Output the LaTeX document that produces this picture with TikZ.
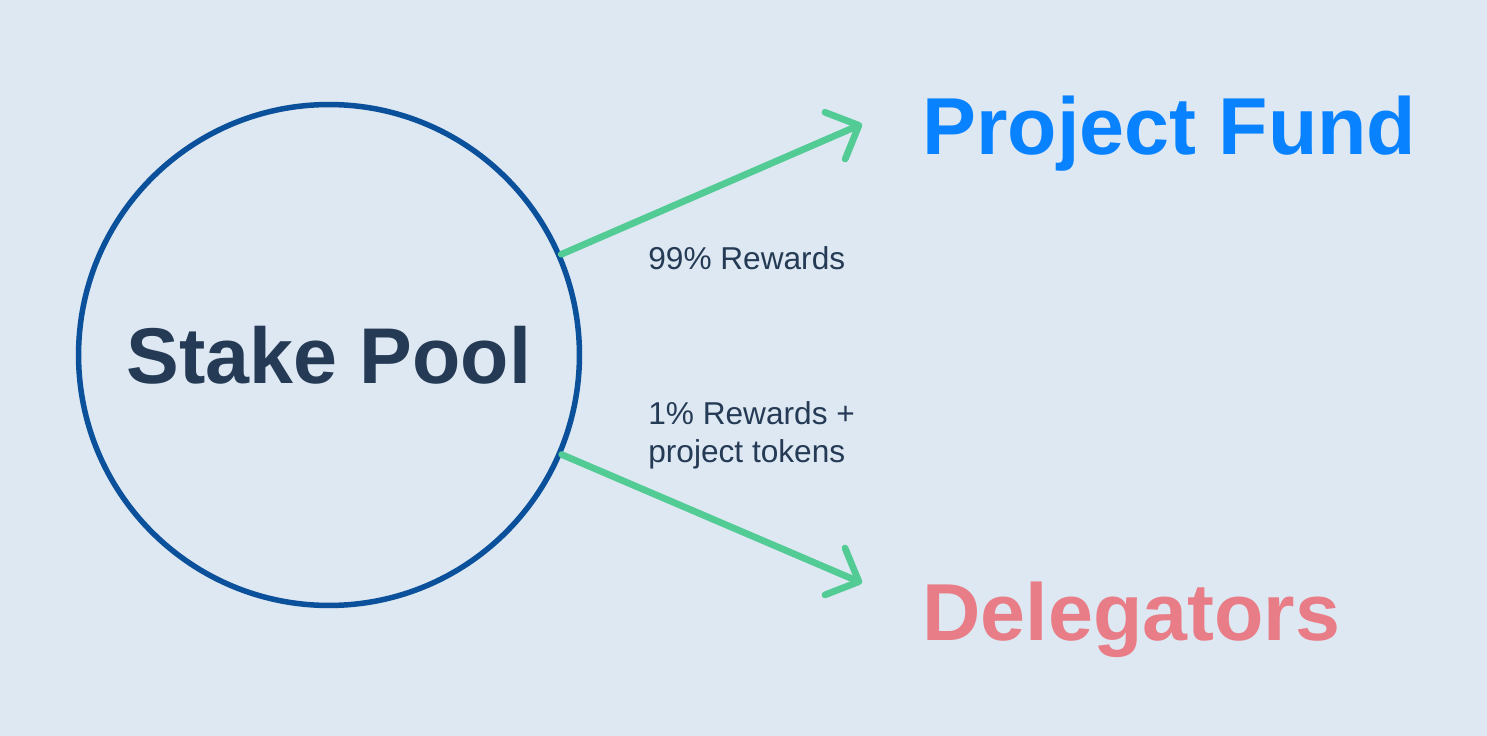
\documentclass[tikz,border=0pt]{standalone}
\usepackage{fontspec}
\setmainfont{Liberation Sans}
\usetikzlibrary{arrows.meta}

\definecolor{bgcol}{RGB}{222,232,242}
\definecolor{poolblue}{RGB}{11,80,155}
\definecolor{flowgreen}{RGB}{82,204,148}
\definecolor{inkcol}{RGB}{36,58,85}
\definecolor{fundblue}{RGB}{8,130,255}
\definecolor{delegpink}{RGB}{233,125,135}

\begin{document}
\begin{tikzpicture}[
  x=0.02cm, y=-0.02cm,
  pool/.style={circle, draw=poolblue, line width=0.11cm, minimum size=10.02cm,
               inner sep=0pt, text=inkcol, font=\fontsize{45}{54}\selectfont\bfseries},
  target/.style={anchor=base west, inner sep=0pt, font=\fontsize{46}{55}\selectfont\bfseries},
  share/.style={inner sep=0pt, text=inkcol, align=left,
                font=\fontsize{18}{21.5}\selectfont},
  flow/.style={draw=flowgreen, line width=0.135cm, line cap=round, line join=round,
               -{Straight Barb[round, length=0.52cm, width=1.02cm]}}
]
% --- background ---
\fill[bgcol] (0,0) rectangle (1487,736);
% --- pool and targets ---
\node[pool] (pool) at (329,355) {Stake Pool};
\node[target, text=fundblue]  (fund)  at (922,155) {Project Fund};
\node[target, text=delegpink] (deleg) at (922,640) {Delegators};
\coordinate (fundtip)  at (862,124);
\coordinate (delegtip) at (862,583);
% --- flows ---
\draw[flow] (pool) -- (fundtip);
\draw[flow] (pool) -- (delegtip);
\node[share, anchor=base west] (big)   at (648,270) {99\% Rewards};
\node[share, anchor=north west] (small) at (648,401) {1\% Rewards +\\project tokens};
\end{tikzpicture}
\end{document}
